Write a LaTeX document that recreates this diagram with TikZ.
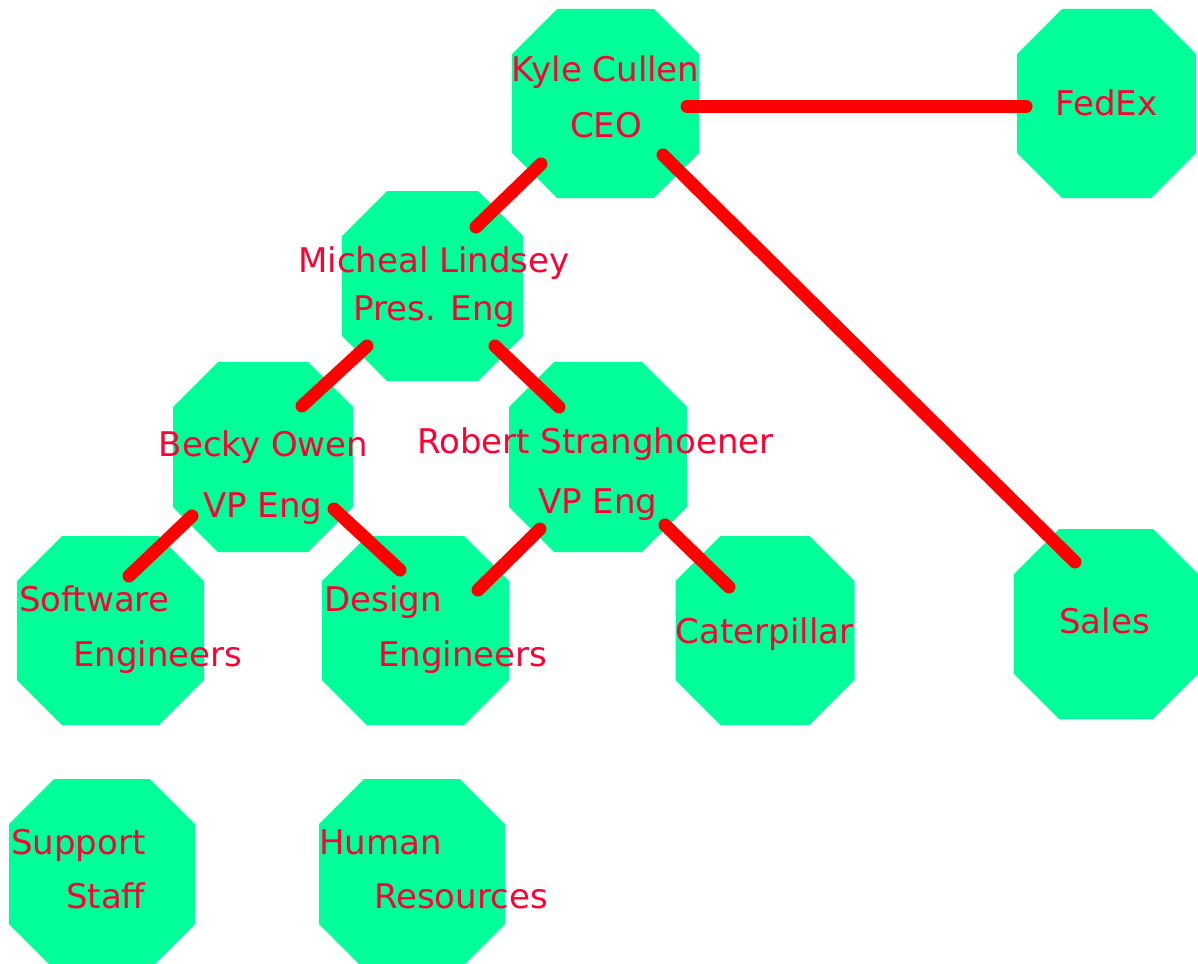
\documentclass[tikz,border=0pt]{standalone}
\usepackage{fontspec}
\setmainfont{DejaVu Sans}
\usetikzlibrary{backgrounds}
\definecolor{octgreen}{HTML}{00FF99}
\definecolor{txtred}{HTML}{FF0033}
\definecolor{linered}{HTML}{FF0000}
\tikzset{
  octbox/.style 2 args={rectangle, inner sep=0pt, outer sep=0pt, minimum width=#1pt, minimum height=#2pt},
  octfill/.style={fill=octgreen},
  lbl/.style={text=txtred, font=\fontsize{34}{40}\selectfont, inner sep=0pt, anchor=base},
  lblw/.style={lbl, anchor=base west},
  link/.style={draw=linered, line width=13pt, line cap=round}
}
\begin{document}
\begin{tikzpicture}[x=1pt,y=-1pt]
\clip (0,0) rectangle (1198,963);
% octagon placeholders
\node[octbox={187}{189}] (kyle)    at (605.5,103.5) {};
\node[octbox={179}{189}] (fedex)   at (1106.5,103.5) {};
\node[octbox={181}{190}] (mich)    at (432.5,286) {};
\node[octbox={180}{190}] (becky)   at (263,457) {};
\node[octbox={178}{190}] (robert)  at (598,457) {};
\node[octbox={187}{189}] (soft)    at (110.5,630.5) {};
\node[octbox={187}{189}] (design)  at (415.5,630.5) {};
\node[octbox={179}{189}] (cat)     at (765,630.5) {};
\node[octbox={184}{190}] (sales)   at (1106,624) {};
\node[octbox={186}{190}] (support) at (102,874) {};
\node[octbox={186}{190}] (human)   at (412,874) {};
\begin{scope}[on background layer]
\foreach \n in {kyle,fedex,mich,becky,robert,soft,design,cat,sales,support,human}{
  \fill[octfill] ([xshift=45pt]\n.north west) -- ([xshift=-45pt]\n.north east)
    -- ([yshift=-45pt]\n.north east) -- ([yshift=45pt]\n.south east)
    -- ([xshift=-45pt]\n.south east) -- ([xshift=45pt]\n.south west)
    -- ([yshift=45pt]\n.south west) -- ([yshift=-45pt]\n.north west) -- cycle;
}
\end{scope}
% labels
\node[lbl] (kyleA) at (605.5,82) {Kyle Cullen};
\node[lbl] (kyleB) at (606,137) {CEO};
\node[lbl] (fedexA) at (1106.5,116) {FedEx};
\node[lbl] (michA) at (434,272) {Micheal Lindsey};
\node[lbl] (michB) at (434.5,320) {Pres. Eng};
\node[lbl] (beckyA) at (263.5,456) {Becky Owen};
\node[lbl] (beckyB) at (263,517) {VP Eng};
\node[lbl] (robertA) at (595.5,453) {Robert Stranghoener};
\node[lbl] (robertB) at (598,513) {VP Eng};
\node[lblw] (softA) at (19,611) {Software};
\node[lblw] (softB) at (73,666) {Engineers};
\node[lblw] (designA) at (324,611) {Design};
\node[lblw] (designB) at (378,666) {Engineers};
\node[lbl] (catA) at (764.5,643) {Caterpillar};
\node[lbl] (salesA) at (1104.5,633) {Sales};
\node[lblw] (supportA) at (11,854) {Support};
\node[lblw] (supportB) at (66,908) {Staff};
\node[lblw] (humanA) at (319,854) {Human};
\node[lblw] (humanB) at (374,908) {Resources};
% connector end points
\coordinate (kf1) at (687,106.5);  \coordinate (kf2) at (1026,106.5);
\coordinate (km1) at (541,164);    \coordinate (km2) at (476,227);
\coordinate (ks1) at (663,155);    \coordinate (ks2) at (1075,562);
\coordinate (mb1) at (367,346);    \coordinate (mb2) at (302,406);
\coordinate (mr1) at (495,346);    \coordinate (mr2) at (559,407);
\coordinate (bs1) at (192,516);    \coordinate (bs2) at (129,576);
\coordinate (bd1) at (334,509);    \coordinate (bd2) at (400,570);
\coordinate (rd1) at (540,529);    \coordinate (rd2) at (478,590);
\coordinate (rc1) at (665,525);    \coordinate (rc2) at (729,587);
\draw[link] (kf1) -- (kf2);
\draw[link] (km1) -- (km2);
\draw[link] (ks1) -- (ks2);
\draw[link] (mb1) -- (mb2);
\draw[link] (mr1) -- (mr2);
\draw[link] (bs1) -- (bs2);
\draw[link] (bd1) -- (bd2);
\draw[link] (rd1) -- (rd2);
\draw[link] (rc1) -- (rc2);
\end{tikzpicture}
\end{document}
